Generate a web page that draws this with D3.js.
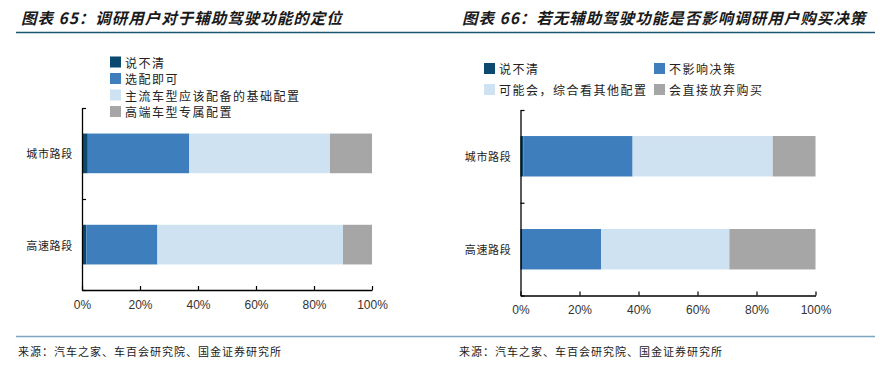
<!DOCTYPE html>
<html><head><meta charset="utf-8">
<script src="https://cdn.jsdelivr.net/npm/d3@7"></script>
<style>
html,body{margin:0;padding:0;background:#fff;}
svg{display:block;}
</style></head>
<body>
<svg id="c" width="894" height="374"></svg>
<script>
// ---------- data ----------
const categories = ["城市路段", "高速路段"];
const ticks = [0, 20, 40, 60, 80, 100];
const tickLabels = ["0%", "20%", "40%", "60%", "80%", "100%"];

const leftTitle = "图表 65：调研用户对于辅助驾驶功能的定位";
const leftSeries = ["说不清", "选配即可", "主流车型应该配备的基础配置", "高端车型专属配置"];
const leftUnclear = [2, 1.5];
const leftOptional = [35, 24.5];
const leftBasic = [48.5, 64];
const leftPremium = [14.5, 10];

const rightTitle = "图表 66：若无辅助驾驶功能是否影响调研用户购买决策";
const rightSeries = ["说不清", "不影响决策", "可能会，综合看其他配置", "会直接放弃购买"];
const rightUnclear = [1, 0.5];
const rightNoEffect = [37, 26.8];
const rightMaybe = [47.5, 43.5];
const rightAbandon = [14.5, 29.2];

const source = "来源：汽车之家、车百会研究院、国金证券研究所";
const colors = ["#0b4a6e", "#3f7ebd", "#cfe2f2", "#a6a6a6"];

// ---------- drawing ----------
const svg = d3.select("#c");
const cjk = "'Noto Sans CJK SC', 'Noto Sans', sans-serif";

// header / footer rules
svg.append("line").attr("x1", 16).attr("x2", 875).attr("y1", 32.5).attr("y2", 32.5)
  .attr("stroke", "#1d5675").attr("stroke-width", 1.3);
svg.append("line").attr("x1", 16).attr("x2", 875).attr("y1", 336.5).attr("y2", 336.5)
  .attr("stroke", "#7ba6c0").attr("stroke-width", 1.3);

function drawPanel(cfg) {
  const g = svg.append("g");
  // title
  g.append("text").attr("x", cfg.titleX).attr("y", 24)
    .attr("font-family", cjk).attr("font-size", 15.5).attr("font-weight", "bold")
    .attr("font-style", "italic").attr("letter-spacing", cfg.titleLS).attr("fill", "#1a1a1a").text(cfg.title);
  // source
  g.append("text").attr("x", cfg.sourceX).attr("y", 356)
    .attr("font-family", cjk).attr("font-size", 11).attr("letter-spacing", 1)
    .attr("fill", "#222").text(source);

  const x = d3.scaleLinear().domain([0, 100]).range([cfg.x0, cfg.x1]);
  const y = d3.scaleBand().domain(categories).range([cfg.yTop, cfg.yBot]).paddingInner(0.565).paddingOuter(0.28);

  const rows = categories.map((c, i) => {
    const vals = cfg.values.map(a => a[i]);
    let acc = 0;
    return vals.map((v, k) => { const s = acc; acc += v; return {cat: c, k, s, e: acc}; });
  });
  g.selectAll("rect.bar").data(rows.flat()).enter().append("rect")
    .attr("x", d => x(d.s)).attr("width", d => Math.max(0, x(d.e) - x(d.s)))
    .attr("y", d => y(d.cat)).attr("height", y.bandwidth())
    .attr("fill", d => colors[d.k]);

  // x axis
  const xa = g.append("g").attr("transform", `translate(0,${cfg.yBot})`)
    .call(d3.axisBottom(x).tickValues(ticks).tickFormat((d, i) => tickLabels[i]).tickSizeInner(-4).tickSizeOuter(0));
  xa.select(".domain").attr("stroke", "#000").attr("stroke-width", 1.3);
  xa.selectAll(".tick line").attr("stroke", "#000").attr("stroke-width", 1.2);
  xa.selectAll(".tick text").attr("font-family", "'Liberation Sans', Arial, sans-serif")
    .attr("font-size", 12).attr("fill", "#333").attr("dy", "0.71em").attr("y", 10);

  // y axis
  const yAxisScale = d3.scaleLinear().domain([0, 2]).range([cfg.yTop, cfg.yBot]);
  const ya = g.append("g").attr("transform", `translate(${cfg.x0},0)`)
    .call(d3.axisLeft(yAxisScale).tickValues([0, 1, 2]).tickFormat("").tickSizeInner(-4).tickSizeOuter(0));
  ya.select(".domain").attr("stroke", "#000").attr("stroke-width", 1.3);
  ya.selectAll(".tick line").attr("stroke", "#000").attr("stroke-width", 1.2);

  // category labels
  g.selectAll("text.cat").data(categories).enter().append("text")
    .attr("x", cfg.x0 - 9).attr("y", d => y(d) + y.bandwidth() / 2)
    .attr("text-anchor", "end").attr("dominant-baseline", "central")
    .attr("font-family", cjk).attr("font-size", 11).attr("letter-spacing", 0.7)
    .attr("fill", "#222").text(d => d);

  // legend
  const lg = g.selectAll("g.leg").data(cfg.series).enter().append("g")
    .attr("transform", (d, i) => `translate(${cfg.legPos[i][0]},${cfg.legPos[i][1]})`);
  lg.append("rect").attr("x", 0).attr("y", -5.5).attr("width", 11).attr("height", 11)
    .attr("fill", (d, i) => colors[i]);
  lg.append("text").attr("x", 15).attr("y", 0).attr("dominant-baseline", "central")
    .attr("font-family", cjk).attr("font-size", 12).attr("letter-spacing", 1.5)
    .attr("fill", "#222").text(d => d);
}

drawPanel({
  title: leftTitle, titleX: 21, sourceX: 18, titleLS: 1,
  x0: 82, x1: 372, yTop: 108, yBot: 290,
  values: [leftUnclear, leftOptional, leftBasic, leftPremium],
  series: leftSeries,
  legPos: [[110, 62], [110, 78.5], [110, 95], [110, 111.5]]
});
drawPanel({
  title: rightTitle, titleX: 462, sourceX: 459, titleLS: 1,
  x0: 520.5, x1: 815.5, yTop: 110, yBot: 295.5,
  values: [rightUnclear, rightNoEffect, rightMaybe, rightAbandon],
  series: rightSeries,
  legPos: [[484, 68.5], [654, 68.5], [484, 89.5], [654, 89.5]]
});
</script>
</body></html>
